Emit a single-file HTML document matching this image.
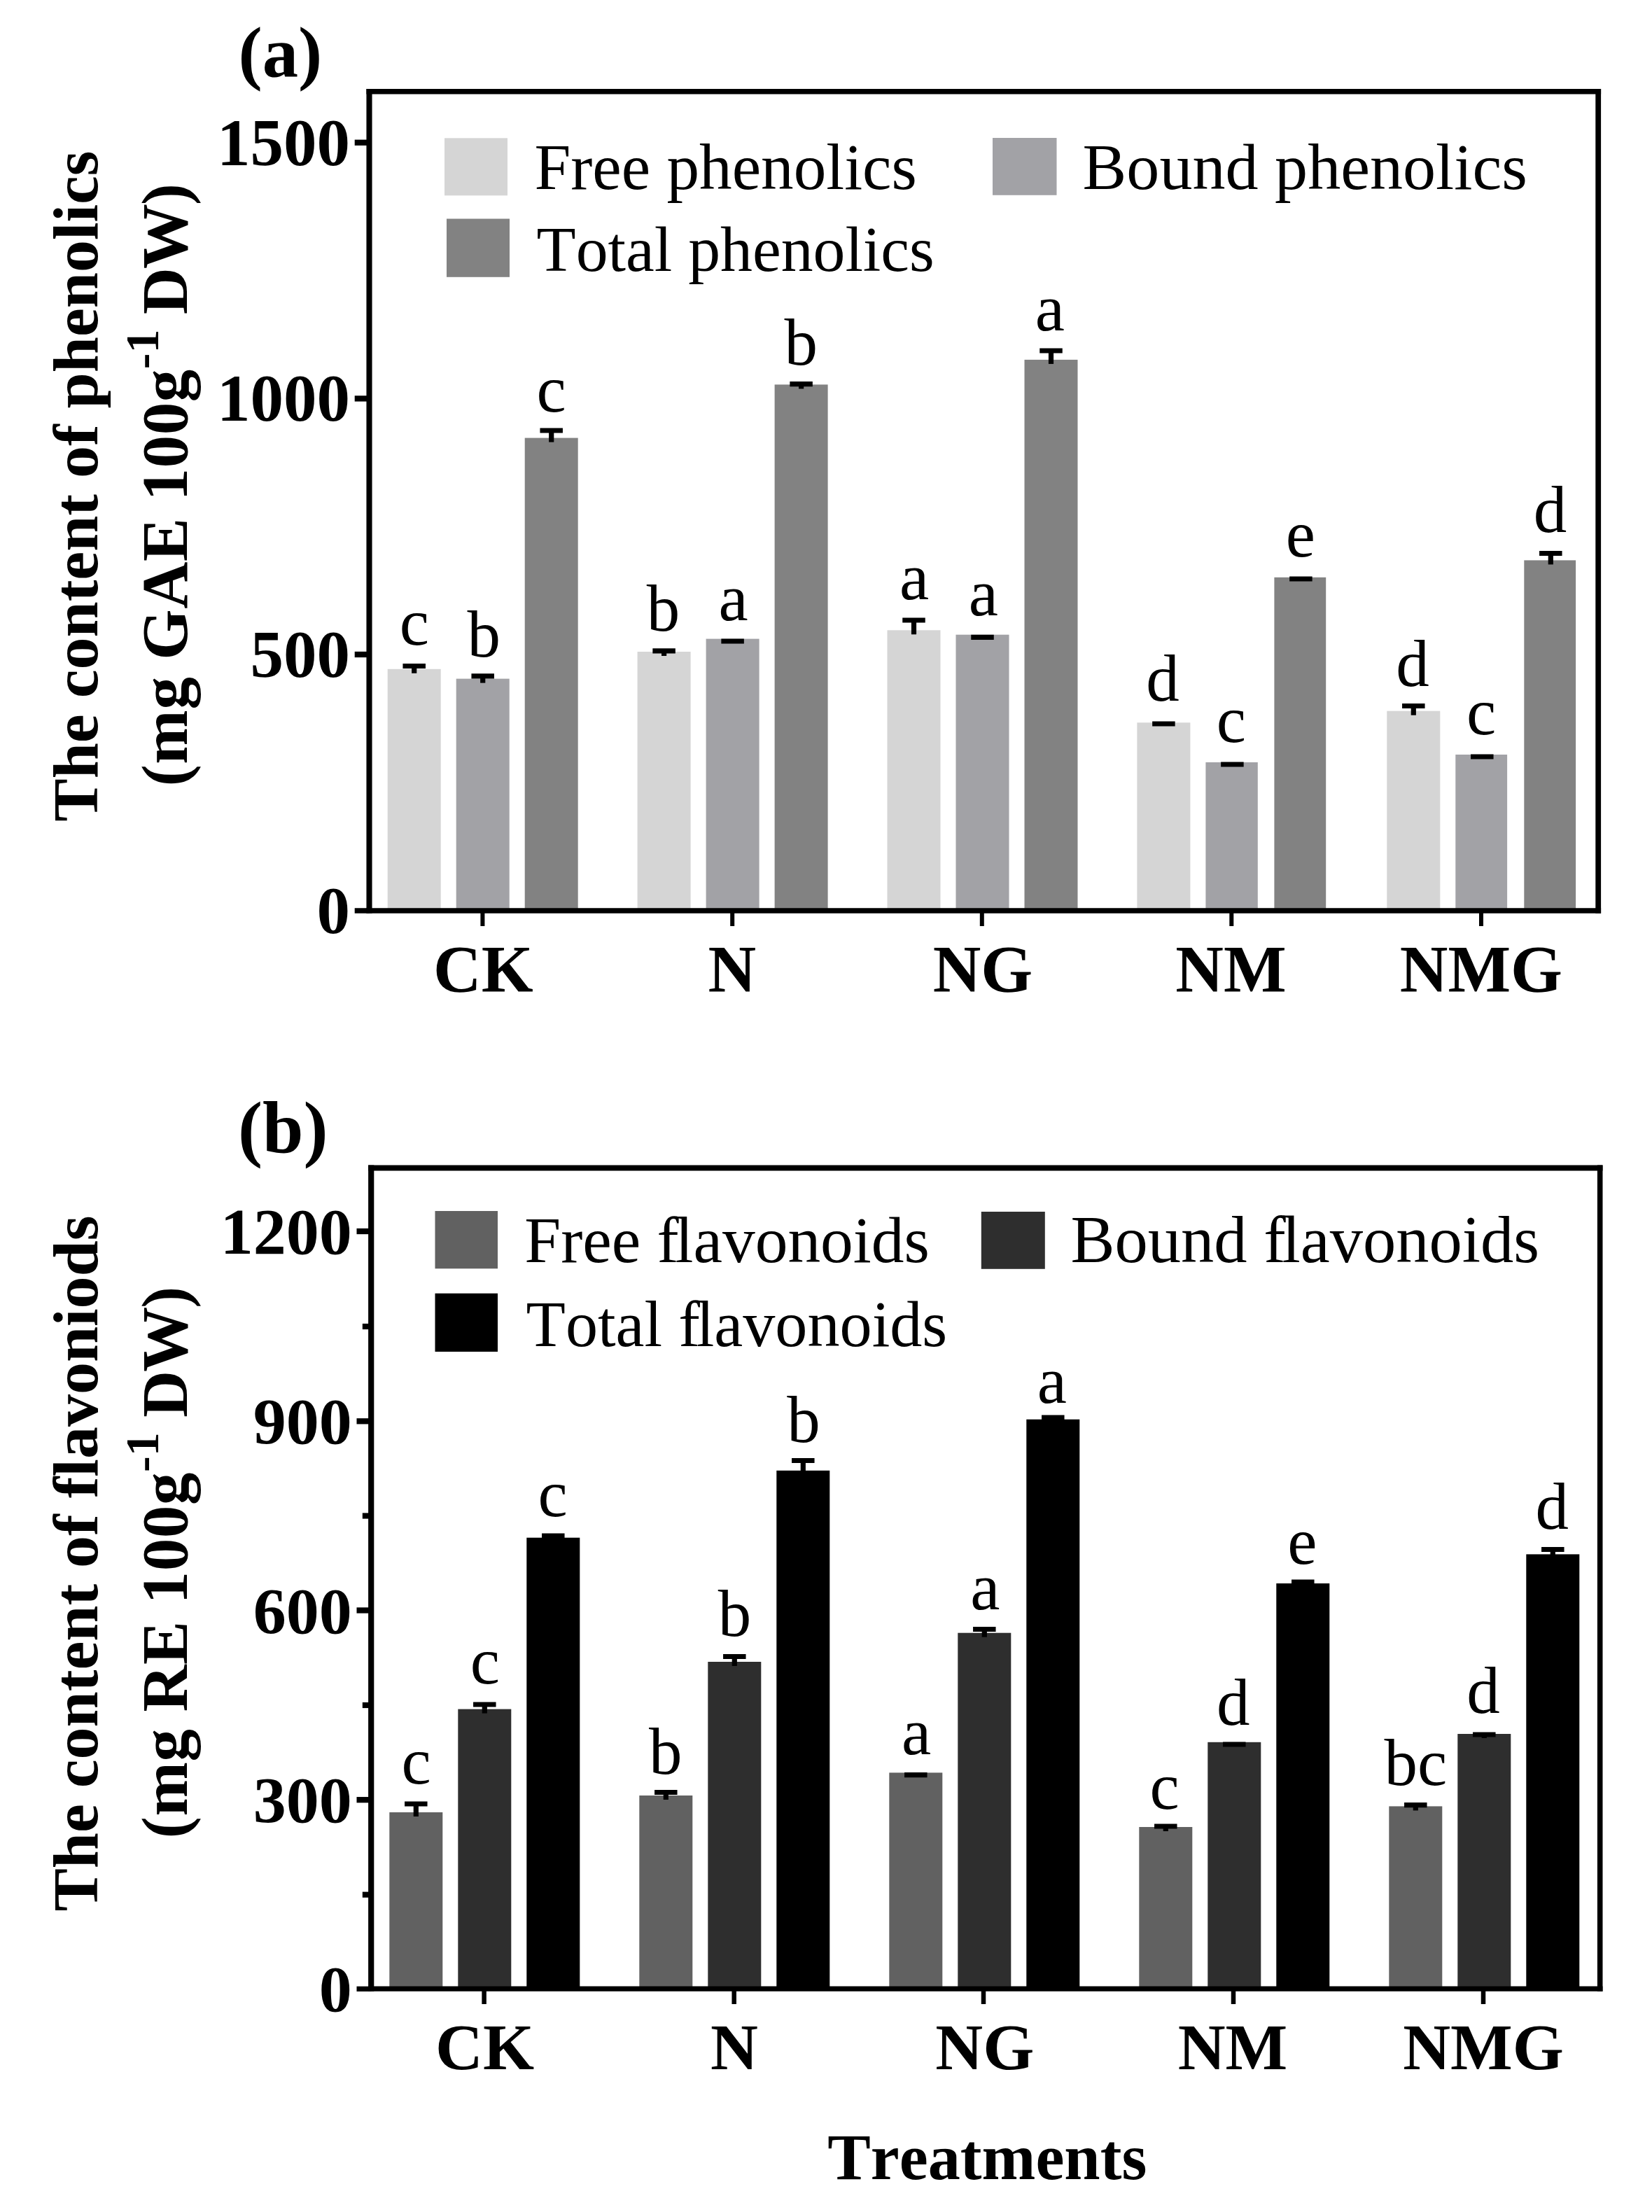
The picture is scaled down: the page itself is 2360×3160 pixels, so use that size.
<!DOCTYPE html>
<html lang="en">
<head>
<meta charset="utf-8">
<title>Phenolics and flavonoids content</title>
<style>
html,body{margin:0;padding:0;background:#fff;}
body{width:2360px;height:3160px;overflow:hidden;}
svg{display:block;filter:blur(0.6px);font-family:"Liberation Serif", "Times New Roman", Times, serif;font-variant-ligatures:common-ligatures;font-kerning:none;}
text{fill:#000;}

</style>
</head>
<body>
<svg width="2360" height="3160" viewBox="0 0 2360 3160">
<rect x="0" y="0" width="2360" height="3160" fill="#ffffff"/>
<g id="panel-a">
<rect x="553.70" y="955.80" width="76.00" height="345.20" fill="#d5d5d5"/>
<rect x="651.70" y="969.60" width="76.00" height="331.40" fill="#a2a2a6"/>
<rect x="749.70" y="625.60" width="76.00" height="675.40" fill="#828282"/>
<rect x="910.60" y="931.00" width="76.00" height="370.00" fill="#d5d5d5"/>
<rect x="1008.60" y="912.60" width="76.00" height="388.40" fill="#a2a2a6"/>
<rect x="1106.60" y="549.40" width="76.00" height="751.60" fill="#828282"/>
<rect x="1267.50" y="900.30" width="76.00" height="400.70" fill="#d5d5d5"/>
<rect x="1365.50" y="906.70" width="76.00" height="394.30" fill="#a2a2a6"/>
<rect x="1463.50" y="513.90" width="76.00" height="787.10" fill="#828282"/>
<rect x="1624.40" y="1032.30" width="76.00" height="268.70" fill="#d5d5d5"/>
<rect x="1722.40" y="1089.00" width="74.40" height="212.00" fill="#a2a2a6"/>
<rect x="1820.40" y="824.80" width="73.80" height="476.20" fill="#828282"/>
<rect x="1981.30" y="1015.70" width="76.00" height="285.30" fill="#d5d5d5"/>
<rect x="2079.30" y="1078.00" width="73.80" height="223.00" fill="#a2a2a6"/>
<rect x="2177.30" y="800.40" width="73.80" height="500.60" fill="#828282"/>
<line x1="591.70" y1="951.50" x2="591.70" y2="961.80" stroke="#000" stroke-width="7.2" stroke-linecap="butt"/>
<line x1="575.45" y1="951.50" x2="607.95" y2="951.50" stroke="#000" stroke-width="7.2" stroke-linecap="butt"/>
<line x1="689.70" y1="965.80" x2="689.70" y2="975.60" stroke="#000" stroke-width="7.2" stroke-linecap="butt"/>
<line x1="673.45" y1="965.80" x2="705.95" y2="965.80" stroke="#000" stroke-width="7.2" stroke-linecap="butt"/>
<line x1="787.70" y1="615.00" x2="787.70" y2="631.60" stroke="#000" stroke-width="7.2" stroke-linecap="butt"/>
<line x1="771.45" y1="615.00" x2="803.95" y2="615.00" stroke="#000" stroke-width="7.2" stroke-linecap="butt"/>
<line x1="948.60" y1="929.80" x2="948.60" y2="937.00" stroke="#000" stroke-width="7.2" stroke-linecap="butt"/>
<line x1="932.35" y1="929.80" x2="964.85" y2="929.80" stroke="#000" stroke-width="7.2" stroke-linecap="butt"/>
<line x1="1030.35" y1="916.00" x2="1062.85" y2="916.00" stroke="#000" stroke-width="7.2" stroke-linecap="butt"/>
<line x1="1144.60" y1="548.70" x2="1144.60" y2="555.40" stroke="#000" stroke-width="7.2" stroke-linecap="butt"/>
<line x1="1128.35" y1="548.70" x2="1160.85" y2="548.70" stroke="#000" stroke-width="7.2" stroke-linecap="butt"/>
<line x1="1305.50" y1="886.00" x2="1305.50" y2="906.30" stroke="#000" stroke-width="7.2" stroke-linecap="butt"/>
<line x1="1289.25" y1="886.00" x2="1321.75" y2="886.00" stroke="#000" stroke-width="7.2" stroke-linecap="butt"/>
<line x1="1387.25" y1="910.30" x2="1419.75" y2="910.30" stroke="#000" stroke-width="7.2" stroke-linecap="butt"/>
<line x1="1501.50" y1="501.00" x2="1501.50" y2="519.90" stroke="#000" stroke-width="7.2" stroke-linecap="butt"/>
<line x1="1485.25" y1="501.00" x2="1517.75" y2="501.00" stroke="#000" stroke-width="7.2" stroke-linecap="butt"/>
<line x1="1646.15" y1="1034.00" x2="1678.65" y2="1034.00" stroke="#000" stroke-width="7.2" stroke-linecap="butt"/>
<line x1="1744.15" y1="1092.00" x2="1776.65" y2="1092.00" stroke="#000" stroke-width="7.2" stroke-linecap="butt"/>
<line x1="1842.15" y1="827.00" x2="1874.65" y2="827.00" stroke="#000" stroke-width="7.2" stroke-linecap="butt"/>
<line x1="2019.30" y1="1008.50" x2="2019.30" y2="1021.70" stroke="#000" stroke-width="7.2" stroke-linecap="butt"/>
<line x1="2003.05" y1="1008.50" x2="2035.55" y2="1008.50" stroke="#000" stroke-width="7.2" stroke-linecap="butt"/>
<line x1="2101.05" y1="1081.00" x2="2133.55" y2="1081.00" stroke="#000" stroke-width="7.2" stroke-linecap="butt"/>
<line x1="2215.30" y1="790.50" x2="2215.30" y2="806.40" stroke="#000" stroke-width="7.2" stroke-linecap="butt"/>
<line x1="2199.05" y1="790.50" x2="2231.55" y2="790.50" stroke="#000" stroke-width="7.2" stroke-linecap="butt"/>
<line x1="527.50" y1="127.00" x2="527.50" y2="1304.75" stroke="#000" stroke-width="8.1" stroke-linecap="butt"/>
<line x1="2283.20" y1="127.00" x2="2283.20" y2="1304.75" stroke="#000" stroke-width="7.8" stroke-linecap="butt"/>
<line x1="523.45" y1="130.70" x2="2287.10" y2="130.70" stroke="#000" stroke-width="7.4" stroke-linecap="butt"/>
<line x1="523.45" y1="1301.00" x2="2287.10" y2="1301.00" stroke="#000" stroke-width="7.5" stroke-linecap="butt"/>
<line x1="506.70" y1="203.70" x2="527.50" y2="203.70" stroke="#000" stroke-width="8.3" stroke-linecap="butt"/>
<text x="500.00" y="235.70" text-anchor="end" font-size="95.00" font-weight="bold">1500</text>
<line x1="506.70" y1="569.40" x2="527.50" y2="569.40" stroke="#000" stroke-width="8.3" stroke-linecap="butt"/>
<text x="500.00" y="601.40" text-anchor="end" font-size="95.00" font-weight="bold">1000</text>
<line x1="506.70" y1="935.00" x2="527.50" y2="935.00" stroke="#000" stroke-width="8.3" stroke-linecap="butt"/>
<text x="500.00" y="967.00" text-anchor="end" font-size="95.00" font-weight="bold">500</text>
<line x1="506.70" y1="1301.00" x2="527.50" y2="1301.00" stroke="#000" stroke-width="7.5" stroke-linecap="butt"/>
<text x="500.00" y="1333.00" text-anchor="end" font-size="95.00" font-weight="bold">0</text>
<line x1="689.40" y1="1301.00" x2="689.40" y2="1323.00" stroke="#000" stroke-width="6.0" stroke-linecap="butt"/>
<text x="690.30" y="1416.50" text-anchor="middle" font-size="95.00" font-weight="bold">CK</text>
<line x1="1046.20" y1="1301.00" x2="1046.20" y2="1323.00" stroke="#000" stroke-width="6.0" stroke-linecap="butt"/>
<text x="1045.70" y="1416.50" text-anchor="middle" font-size="95.00" font-weight="bold">N</text>
<line x1="1402.80" y1="1301.00" x2="1402.80" y2="1323.00" stroke="#000" stroke-width="6.0" stroke-linecap="butt"/>
<text x="1404.00" y="1416.50" text-anchor="middle" font-size="95.00" font-weight="bold">NG</text>
<line x1="1759.30" y1="1301.00" x2="1759.30" y2="1323.00" stroke="#000" stroke-width="6.0" stroke-linecap="butt"/>
<text x="1758.50" y="1416.50" text-anchor="middle" font-size="95.00" font-weight="bold">NM</text>
<line x1="2116.00" y1="1301.00" x2="2116.00" y2="1323.00" stroke="#000" stroke-width="6.0" stroke-linecap="butt"/>
<text x="2115.90" y="1416.50" text-anchor="middle" font-size="95.00" font-weight="bold">NMG</text>
<text x="591.90" y="920.50" text-anchor="middle" font-size="95.00">c</text>
<text x="691.35" y="938.00" text-anchor="middle" font-size="95.00">b</text>
<text x="787.70" y="588.30" text-anchor="middle" font-size="95.00">c</text>
<text x="947.60" y="900.80" text-anchor="middle" font-size="95.00">b</text>
<text x="1047.70" y="886.30" text-anchor="middle" font-size="95.00">a</text>
<text x="1144.20" y="520.90" text-anchor="middle" font-size="95.00">b</text>
<text x="1306.20" y="856.30" text-anchor="middle" font-size="95.00">a</text>
<text x="1404.90" y="878.60" text-anchor="middle" font-size="95.00">a</text>
<text x="1499.75" y="471.90" text-anchor="middle" font-size="95.00">a</text>
<text x="1661.05" y="1001.40" text-anchor="middle" font-size="95.00">d</text>
<text x="1758.90" y="1059.90" text-anchor="middle" font-size="95.00">c</text>
<text x="1857.75" y="795.00" text-anchor="middle" font-size="95.00">e</text>
<text x="2017.95" y="980.00" text-anchor="middle" font-size="95.00">d</text>
<text x="2116.20" y="1049.40" text-anchor="middle" font-size="95.00">c</text>
<text x="2214.50" y="760.30" text-anchor="middle" font-size="95.00">d</text>
<rect x="635.00" y="197.30" width="90.00" height="82.00" fill="#d5d5d5"/>
<text x="763.40" y="270.40" text-anchor="start" font-size="93.25">Free phenolics</text>
<rect x="1418.00" y="197.00" width="91.50" height="81.80" fill="#a2a2a6"/>
<text x="1546.60" y="270.00" text-anchor="start" font-size="94.11">Bound phenolics</text>
<rect x="638.00" y="312.50" width="90.00" height="83.30" fill="#828282"/>
<text x="766.60" y="386.50" text-anchor="start" font-size="91.75">Total phenolics</text>
<text x="340.50" y="109.00" text-anchor="start" font-size="102.65" font-weight="bold">(a)</text>
<text transform="translate(139.30 694.50) rotate(-90)" text-anchor="middle" font-size="92.0" font-weight="bold">The content of phenolics</text>
<text transform="translate(266.80 693.60) rotate(-90)" text-anchor="middle" font-size="92.9" font-weight="bold"><tspan letter-spacing="0.65">(mg GAE 100g</tspan><tspan dy="-40.6" font-size="68">-1</tspan><tspan dy="40.6" letter-spacing="-1.9"> DW)</tspan></text>
</g>
<g id="panel-b">
<rect x="556.30" y="2589.00" width="76.00" height="252.10" fill="#616161"/>
<rect x="654.30" y="2441.60" width="76.00" height="399.50" fill="#2e2e2e"/>
<rect x="752.30" y="2196.70" width="76.00" height="644.40" fill="#000000"/>
<rect x="913.30" y="2565.00" width="76.00" height="276.10" fill="#616161"/>
<rect x="1011.30" y="2374.00" width="76.00" height="467.10" fill="#2e2e2e"/>
<rect x="1109.30" y="2100.80" width="76.00" height="740.30" fill="#000000"/>
<rect x="1270.30" y="2532.40" width="76.00" height="308.70" fill="#616161"/>
<rect x="1368.30" y="2332.70" width="76.00" height="508.40" fill="#2e2e2e"/>
<rect x="1466.30" y="2027.70" width="76.00" height="813.40" fill="#000000"/>
<rect x="1627.30" y="2610.00" width="76.00" height="231.10" fill="#616161"/>
<rect x="1725.30" y="2488.80" width="76.00" height="352.30" fill="#2e2e2e"/>
<rect x="1823.30" y="2262.00" width="76.00" height="579.10" fill="#000000"/>
<rect x="1984.30" y="2580.40" width="76.00" height="260.70" fill="#616161"/>
<rect x="2082.30" y="2477.00" width="76.00" height="364.10" fill="#2e2e2e"/>
<rect x="2180.30" y="2220.40" width="76.00" height="620.70" fill="#000000"/>
<line x1="594.30" y1="2577.00" x2="594.30" y2="2595.00" stroke="#000" stroke-width="7.2" stroke-linecap="butt"/>
<line x1="578.05" y1="2577.00" x2="610.55" y2="2577.00" stroke="#000" stroke-width="7.2" stroke-linecap="butt"/>
<line x1="692.30" y1="2435.00" x2="692.30" y2="2447.60" stroke="#000" stroke-width="7.2" stroke-linecap="butt"/>
<line x1="676.05" y1="2435.00" x2="708.55" y2="2435.00" stroke="#000" stroke-width="7.2" stroke-linecap="butt"/>
<line x1="790.30" y1="2194.00" x2="790.30" y2="2202.70" stroke="#000" stroke-width="7.2" stroke-linecap="butt"/>
<line x1="774.05" y1="2194.00" x2="806.55" y2="2194.00" stroke="#000" stroke-width="7.2" stroke-linecap="butt"/>
<line x1="951.30" y1="2560.50" x2="951.30" y2="2571.00" stroke="#000" stroke-width="7.2" stroke-linecap="butt"/>
<line x1="935.05" y1="2560.50" x2="967.55" y2="2560.50" stroke="#000" stroke-width="7.2" stroke-linecap="butt"/>
<line x1="1049.30" y1="2366.50" x2="1049.30" y2="2380.00" stroke="#000" stroke-width="7.2" stroke-linecap="butt"/>
<line x1="1033.05" y1="2366.50" x2="1065.55" y2="2366.50" stroke="#000" stroke-width="7.2" stroke-linecap="butt"/>
<line x1="1147.30" y1="2086.50" x2="1147.30" y2="2106.80" stroke="#000" stroke-width="7.2" stroke-linecap="butt"/>
<line x1="1131.05" y1="2086.50" x2="1163.55" y2="2086.50" stroke="#000" stroke-width="7.2" stroke-linecap="butt"/>
<line x1="1292.05" y1="2535.70" x2="1324.55" y2="2535.70" stroke="#000" stroke-width="7.2" stroke-linecap="butt"/>
<line x1="1406.30" y1="2327.50" x2="1406.30" y2="2338.70" stroke="#000" stroke-width="7.2" stroke-linecap="butt"/>
<line x1="1390.05" y1="2327.50" x2="1422.55" y2="2327.50" stroke="#000" stroke-width="7.2" stroke-linecap="butt"/>
<line x1="1504.30" y1="2025.00" x2="1504.30" y2="2033.70" stroke="#000" stroke-width="7.2" stroke-linecap="butt"/>
<line x1="1488.05" y1="2025.00" x2="1520.55" y2="2025.00" stroke="#000" stroke-width="7.2" stroke-linecap="butt"/>
<line x1="1665.30" y1="2609.00" x2="1665.30" y2="2616.00" stroke="#000" stroke-width="7.2" stroke-linecap="butt"/>
<line x1="1649.05" y1="2609.00" x2="1681.55" y2="2609.00" stroke="#000" stroke-width="7.2" stroke-linecap="butt"/>
<line x1="1747.05" y1="2492.00" x2="1779.55" y2="2492.00" stroke="#000" stroke-width="7.2" stroke-linecap="butt"/>
<line x1="1861.30" y1="2260.00" x2="1861.30" y2="2268.00" stroke="#000" stroke-width="7.2" stroke-linecap="butt"/>
<line x1="1845.05" y1="2260.00" x2="1877.55" y2="2260.00" stroke="#000" stroke-width="7.2" stroke-linecap="butt"/>
<line x1="2022.30" y1="2578.70" x2="2022.30" y2="2586.40" stroke="#000" stroke-width="7.2" stroke-linecap="butt"/>
<line x1="2006.05" y1="2578.70" x2="2038.55" y2="2578.70" stroke="#000" stroke-width="7.2" stroke-linecap="butt"/>
<line x1="2120.30" y1="2478.00" x2="2120.30" y2="2483.00" stroke="#000" stroke-width="7.2" stroke-linecap="butt"/>
<line x1="2104.05" y1="2478.00" x2="2136.55" y2="2478.00" stroke="#000" stroke-width="7.2" stroke-linecap="butt"/>
<line x1="2218.30" y1="2213.50" x2="2218.30" y2="2226.40" stroke="#000" stroke-width="7.2" stroke-linecap="butt"/>
<line x1="2202.05" y1="2213.50" x2="2234.55" y2="2213.50" stroke="#000" stroke-width="7.2" stroke-linecap="butt"/>
<line x1="530.20" y1="1664.60" x2="530.20" y2="2844.75" stroke="#000" stroke-width="8.2" stroke-linecap="butt"/>
<line x1="2285.70" y1="1664.60" x2="2285.70" y2="2844.75" stroke="#000" stroke-width="7.6" stroke-linecap="butt"/>
<line x1="526.10" y1="1668.60" x2="2289.50" y2="1668.60" stroke="#000" stroke-width="8.0" stroke-linecap="butt"/>
<line x1="526.10" y1="2841.10" x2="2289.50" y2="2841.10" stroke="#000" stroke-width="7.3" stroke-linecap="butt"/>
<line x1="509.50" y1="1759.00" x2="530.20" y2="1759.00" stroke="#000" stroke-width="8.3" stroke-linecap="butt"/>
<text x="502.70" y="1791.00" text-anchor="end" font-size="94.00" font-weight="bold">1200</text>
<line x1="509.50" y1="2030.30" x2="530.20" y2="2030.30" stroke="#000" stroke-width="8.3" stroke-linecap="butt"/>
<text x="502.70" y="2062.30" text-anchor="end" font-size="94.00" font-weight="bold">900</text>
<line x1="509.50" y1="2300.50" x2="530.20" y2="2300.50" stroke="#000" stroke-width="8.3" stroke-linecap="butt"/>
<text x="502.70" y="2332.50" text-anchor="end" font-size="94.00" font-weight="bold">600</text>
<line x1="509.50" y1="2571.20" x2="530.20" y2="2571.20" stroke="#000" stroke-width="8.3" stroke-linecap="butt"/>
<text x="502.70" y="2603.20" text-anchor="end" font-size="94.00" font-weight="bold">300</text>
<line x1="509.50" y1="2841.30" x2="530.20" y2="2841.30" stroke="#000" stroke-width="7.3" stroke-linecap="butt"/>
<text x="502.70" y="2873.30" text-anchor="end" font-size="94.00" font-weight="bold">0</text>
<line x1="517.80" y1="1895.00" x2="530.20" y2="1895.00" stroke="#000" stroke-width="8.2" stroke-linecap="butt"/>
<line x1="517.80" y1="2165.50" x2="530.20" y2="2165.50" stroke="#000" stroke-width="8.2" stroke-linecap="butt"/>
<line x1="517.80" y1="2436.00" x2="530.20" y2="2436.00" stroke="#000" stroke-width="8.2" stroke-linecap="butt"/>
<line x1="517.80" y1="2706.70" x2="530.20" y2="2706.70" stroke="#000" stroke-width="8.2" stroke-linecap="butt"/>
<line x1="691.60" y1="2841.10" x2="691.60" y2="2863.00" stroke="#000" stroke-width="6.5" stroke-linecap="butt"/>
<text x="692.50" y="2956.00" text-anchor="middle" font-size="94.00" font-weight="bold">CK</text>
<line x1="1048.70" y1="2841.10" x2="1048.70" y2="2863.00" stroke="#000" stroke-width="6.5" stroke-linecap="butt"/>
<text x="1048.90" y="2956.00" text-anchor="middle" font-size="94.00" font-weight="bold">N</text>
<line x1="1405.00" y1="2841.10" x2="1405.00" y2="2863.00" stroke="#000" stroke-width="6.5" stroke-linecap="butt"/>
<text x="1406.80" y="2956.00" text-anchor="middle" font-size="94.00" font-weight="bold">NG</text>
<line x1="1762.00" y1="2841.10" x2="1762.00" y2="2863.00" stroke="#000" stroke-width="6.5" stroke-linecap="butt"/>
<text x="1761.00" y="2956.00" text-anchor="middle" font-size="94.00" font-weight="bold">NM</text>
<line x1="2119.00" y1="2841.10" x2="2119.00" y2="2863.00" stroke="#000" stroke-width="6.5" stroke-linecap="butt"/>
<text x="2119.00" y="2956.00" text-anchor="middle" font-size="94.00" font-weight="bold">NMG</text>
<text x="594.65" y="2548.00" text-anchor="middle" font-size="95.00">c</text>
<text x="692.85" y="2405.30" text-anchor="middle" font-size="95.00">c</text>
<text x="789.60" y="2166.00" text-anchor="middle" font-size="95.00">c</text>
<text x="950.65" y="2534.00" text-anchor="middle" font-size="95.00">b</text>
<text x="1049.55" y="2336.70" text-anchor="middle" font-size="95.00">b</text>
<text x="1147.90" y="2060.00" text-anchor="middle" font-size="95.00">b</text>
<text x="1309.15" y="2505.50" text-anchor="middle" font-size="95.00">a</text>
<text x="1407.25" y="2298.50" text-anchor="middle" font-size="95.00">a</text>
<text x="1502.80" y="2004.40" text-anchor="middle" font-size="95.00">a</text>
<text x="1663.65" y="2583.50" text-anchor="middle" font-size="95.00">c</text>
<text x="1761.80" y="2463.60" text-anchor="middle" font-size="95.00">d</text>
<text x="1860.45" y="2233.50" text-anchor="middle" font-size="95.00">e</text>
<text x="2022.40" y="2549.90" text-anchor="middle" font-size="95.00">bc</text>
<text x="2119.00" y="2446.50" text-anchor="middle" font-size="95.00">d</text>
<text x="2217.15" y="2184.30" text-anchor="middle" font-size="95.00">d</text>
<rect x="621.50" y="1730.00" width="89.50" height="82.30" fill="#616161"/>
<text x="749.20" y="1803.20" text-anchor="start" font-size="93.43">Free f<tspan dx="-5.1">lavonoids</tspan></text>
<rect x="1401.80" y="1731.00" width="91.00" height="81.80" fill="#2e2e2e"/>
<text x="1529.60" y="1803.00" text-anchor="start" font-size="94.49">Bound f<tspan dx="-5.1">lavonoids</tspan></text>
<rect x="621.50" y="1847.70" width="89.50" height="83.30" fill="#000000"/>
<text x="751.60" y="1922.50" text-anchor="start" font-size="92.18">Total f<tspan dx="-5.1">lavonoids</tspan></text>
<text x="340.10" y="1647.00" text-anchor="start" font-size="105.18" font-weight="bold">(b)</text>
<text transform="translate(139.30 2233.50) rotate(-90)" text-anchor="middle" font-size="92.0" font-weight="bold">The content of flavoniods</text>
<text transform="translate(266.80 2233.00) rotate(-90)" text-anchor="middle" font-size="92.9" font-weight="bold"><tspan letter-spacing="0.65">(mg RE 100g</tspan><tspan dy="-40.6" font-size="68">-1</tspan><tspan dy="40.6" letter-spacing="-1.9"> DW)</tspan></text>
</g>
<text x="1410.30" y="3113.40" text-anchor="middle" font-size="92.25" font-weight="bold">Treatments</text>
</svg>
</body>
</html>
